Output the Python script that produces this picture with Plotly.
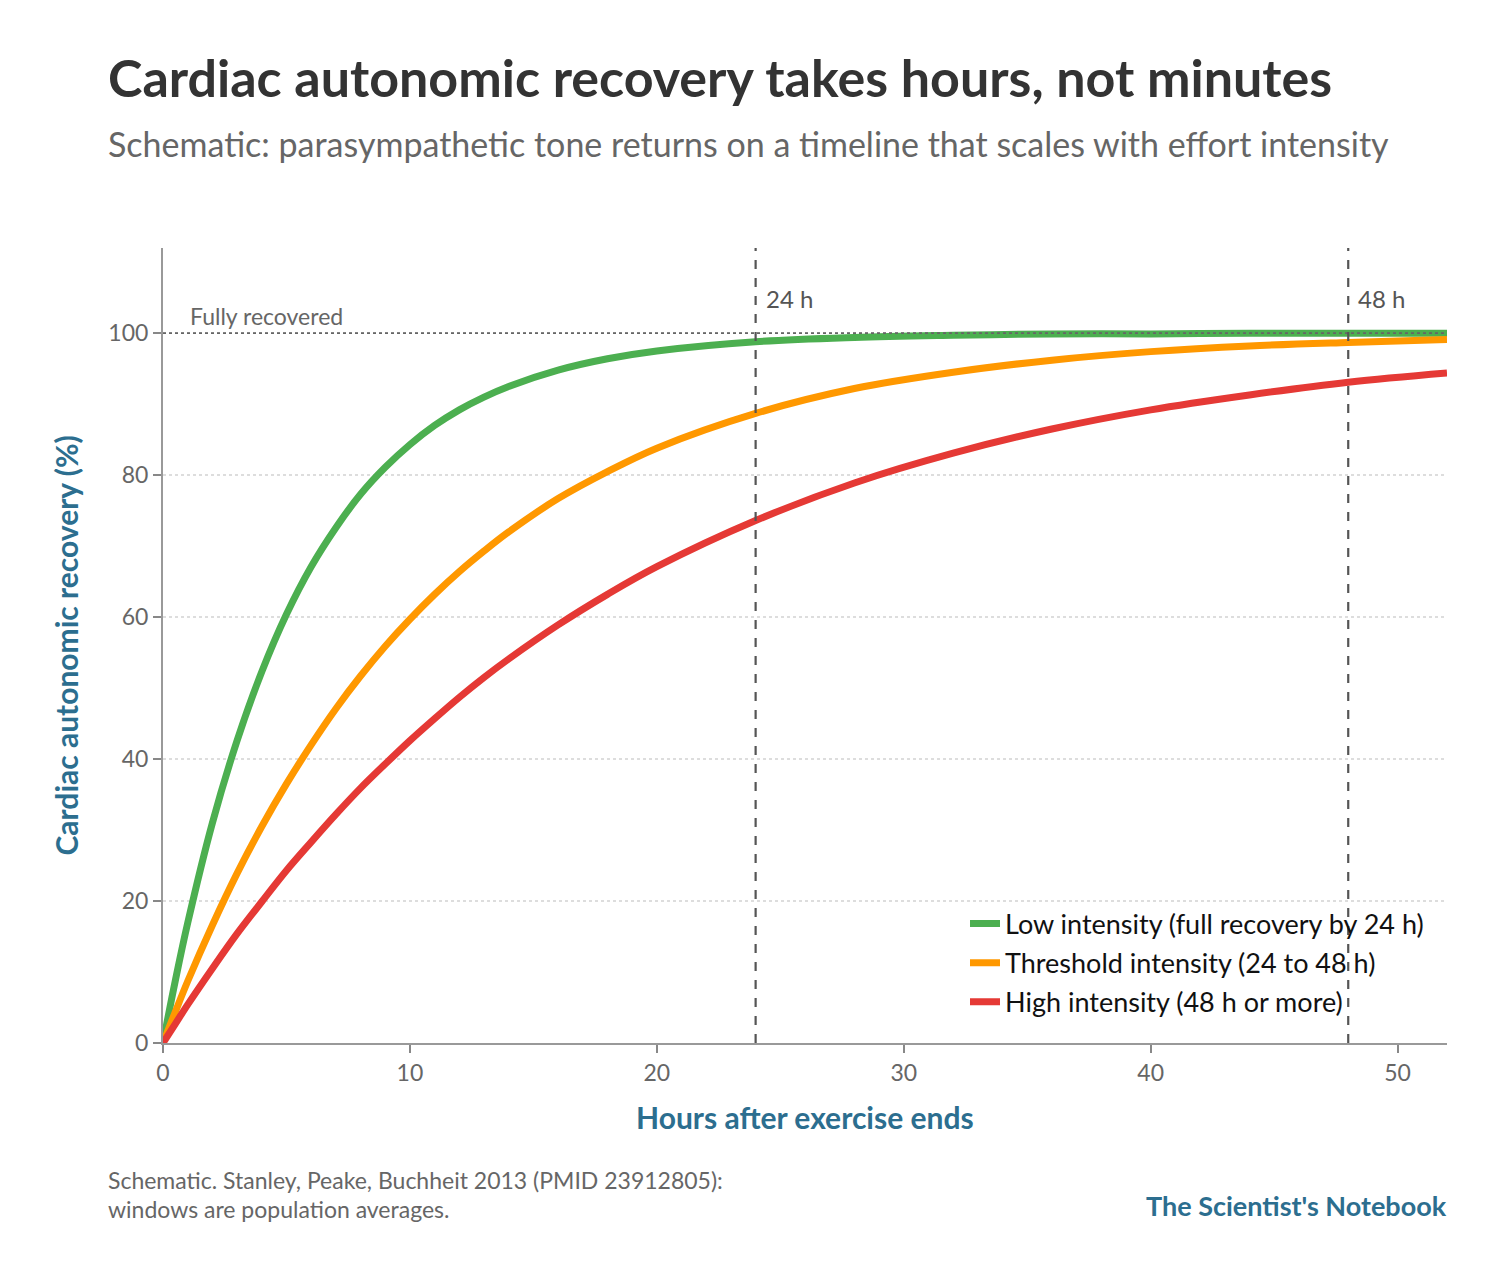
import plotly.graph_objects as go

# hours after exercise ends, sampled off the reference curves
hours = [0, 0.5, 1, 2, 3, 4, 5, 6, 7, 8, 9, 10, 11, 12, 13, 14, 16, 18, 20, 24, 28, 32, 36, 40, 44, 48, 52]

low_intensity = [0, 8.8, 16.9, 31.0, 42.6, 52.3, 60.4, 67.1, 72.6, 77.3, 81.1, 84.3, 87.0, 89.2,
                 91.0, 92.5, 94.8, 96.4, 97.5, 98.8, 99.4, 99.7, 99.9, 99.9, 100, 100, 100]
threshold_intensity = [0, 4.4, 8.7, 16.6, 23.9, 30.5, 36.5, 42.0, 47.1, 51.7, 55.9, 59.7, 63.2, 66.4,
                       69.3, 72.0, 76.7, 80.5, 83.8, 88.7, 92.2, 94.5, 96.2, 97.4, 98.2, 98.7, 99.1]
high_intensity = [0, 2.7, 5.4, 10.5, 15.4, 19.9, 24.3, 28.3, 32.2, 35.9, 39.3, 42.6, 45.7, 48.7,
                  51.5, 54.1, 58.9, 63.2, 67.1, 73.6, 78.9, 83.1, 86.5, 89.2, 91.3, 93.1, 94.4]

series_names = [
    "Low intensity (full recovery by 24 h)",
    "Threshold intensity (24 to 48 h)",
    "High intensity (48 h or more)",
]
series_colors = ["#4caf50", "#ff9800", "#e53935"]
window_marks = [24, 48]
window_labels = ["24 h", "48 h"]

FONT = "Lato"
BLUE = "#2c6e8f"
GREY = "#666666"

# page has an 8px body margin; plot area sits at 163..1447 x 248..1043 on screen
PAGE_OFF = 8
L, T, R, B = 163, 248, 1447, 1043


def px(xpix):
    return (xpix - L) / (R - L)


def py(ypix):
    return (B - ypix) / (B - T)


fig = go.Figure()
for name, ys, color in zip(series_names, [low_intensity, threshold_intensity, high_intensity], series_colors):
    fig.add_trace(go.Scatter(
        x=hours, y=ys, name=name, mode="lines", legendgroup=name,
        line={"color": color, "width": 7, "shape": "spline", "smoothing": 1.0},
    ))

# "fully recovered" reference line
fig.add_shape(type="line", xref="x", yref="y", x0=0, x1=52, y0=100, y1=100,
              line={"color": "#666666", "width": 1.8, "dash": "dot"})
fig.add_annotation(x=1, y=100, xref="x", yref="y", text="Fully recovered", showarrow=False,
                   xanchor="left", yanchor="bottom", yshift=1,
                   font={"family": FONT, "size": 23, "color": GREY})

for xv, label in zip(window_marks, window_labels):
    fig.add_shape(type="line", xref="x", yref="paper", x0=xv, x1=xv, y0=0, y1=1,
                  line={"color": "#555555", "width": 2.2, "dash": "dash"})
    fig.add_annotation(x=xv, y=py(298), xref="x", yref="paper", text=label, showarrow=False,
                       xanchor="left", yanchor="middle", xshift=8,
                       font={"family": FONT, "size": 24, "color": "#555555"})

# title + subtitle
fig.add_annotation(x=px(106), y=py(77), xref="paper", yref="paper",
                   text="<b>Cardiac autonomic recovery takes hours, not minutes</b>",
                   showarrow=False, xanchor="left", yanchor="middle",
                   font={"family": FONT, "size": 52, "color": "#333333"})
fig.add_annotation(x=px(106), y=py(143), xref="paper", yref="paper",
                   text="Schematic: parasympathetic tone returns on a timeline that scales with effort intensity",
                   showarrow=False, xanchor="left", yanchor="middle",
                   font={"family": FONT, "size": 34, "color": GREY})

# axis titles
fig.add_annotation(x=px(65), y=0.5, xref="paper", yref="paper",
                   text="<b>Cardiac autonomic recovery (%)</b>", textangle=-90,
                   showarrow=False, xanchor="center", yanchor="middle",
                   font={"family": FONT, "size": 30, "color": BLUE})
fig.add_annotation(x=px(805), y=py(1117), xref="paper", yref="paper",
                   text="<b>Hours after exercise ends</b>",
                   showarrow=False, xanchor="center", yanchor="middle",
                   font={"family": FONT, "size": 30, "color": BLUE})

# footer
fig.add_annotation(x=px(106), y=py(1180), xref="paper", yref="paper",
                   text="Schematic. Stanley, Peake, Buchheit 2013 (PMID 23912805):",
                   showarrow=False, xanchor="left", yanchor="middle",
                   font={"family": FONT, "size": 23, "color": GREY})
fig.add_annotation(x=px(106), y=py(1209), xref="paper", yref="paper",
                   text="windows are population averages.",
                   showarrow=False, xanchor="left", yanchor="middle",
                   font={"family": FONT, "size": 23, "color": GREY})
fig.add_annotation(x=px(1449), y=py(1205), xref="paper", yref="paper",
                   text="<b>The Scientist's Notebook</b>", showarrow=False,
                   xanchor="right", yanchor="middle",
                   font={"family": FONT, "size": 27, "color": BLUE})

fig.update_layout(
    width=1501, height=1273,
    paper_bgcolor="white", plot_bgcolor="white",
    margin={"l": L - PAGE_OFF, "r": 1501 + PAGE_OFF - R, "t": T - PAGE_OFF, "b": 1273 + PAGE_OFF - B},
    font={"family": FONT, "color": GREY},
    legend={
        "x": px(965), "xanchor": "left", "y": py(963), "yanchor": "middle",
        "bgcolor": "rgba(0,0,0,0)", "font": {"family": FONT, "size": 27, "color": "#111111"},
        "tracegroupgap": 1,
    },
    showlegend=True,
)
fig.update_xaxes(
    range=[0, 52], tickvals=[0, 10, 20, 30, 40, 50],
    showgrid=False, zeroline=False,
    showline=True, linecolor="#999999", linewidth=2,
    ticks="outside", ticklen=8, tickcolor="#888888", tickwidth=1.5,
    tickfont={"family": FONT, "size": 23, "color": GREY},
)
fig.update_yaxes(
    range=[0, 112], tickvals=[0, 20, 40, 60, 80, 100],
    showgrid=True, gridcolor="#dddddd", griddash="dot", gridwidth=1.5,
    zeroline=False,
    showline=True, linecolor="#999999", linewidth=2,
    ticks="outside", ticklen=8, tickcolor="#888888", tickwidth=1.5,
    tickfont={"family": FONT, "size": 23, "color": GREY},
)

fig.write_html("out.html")
